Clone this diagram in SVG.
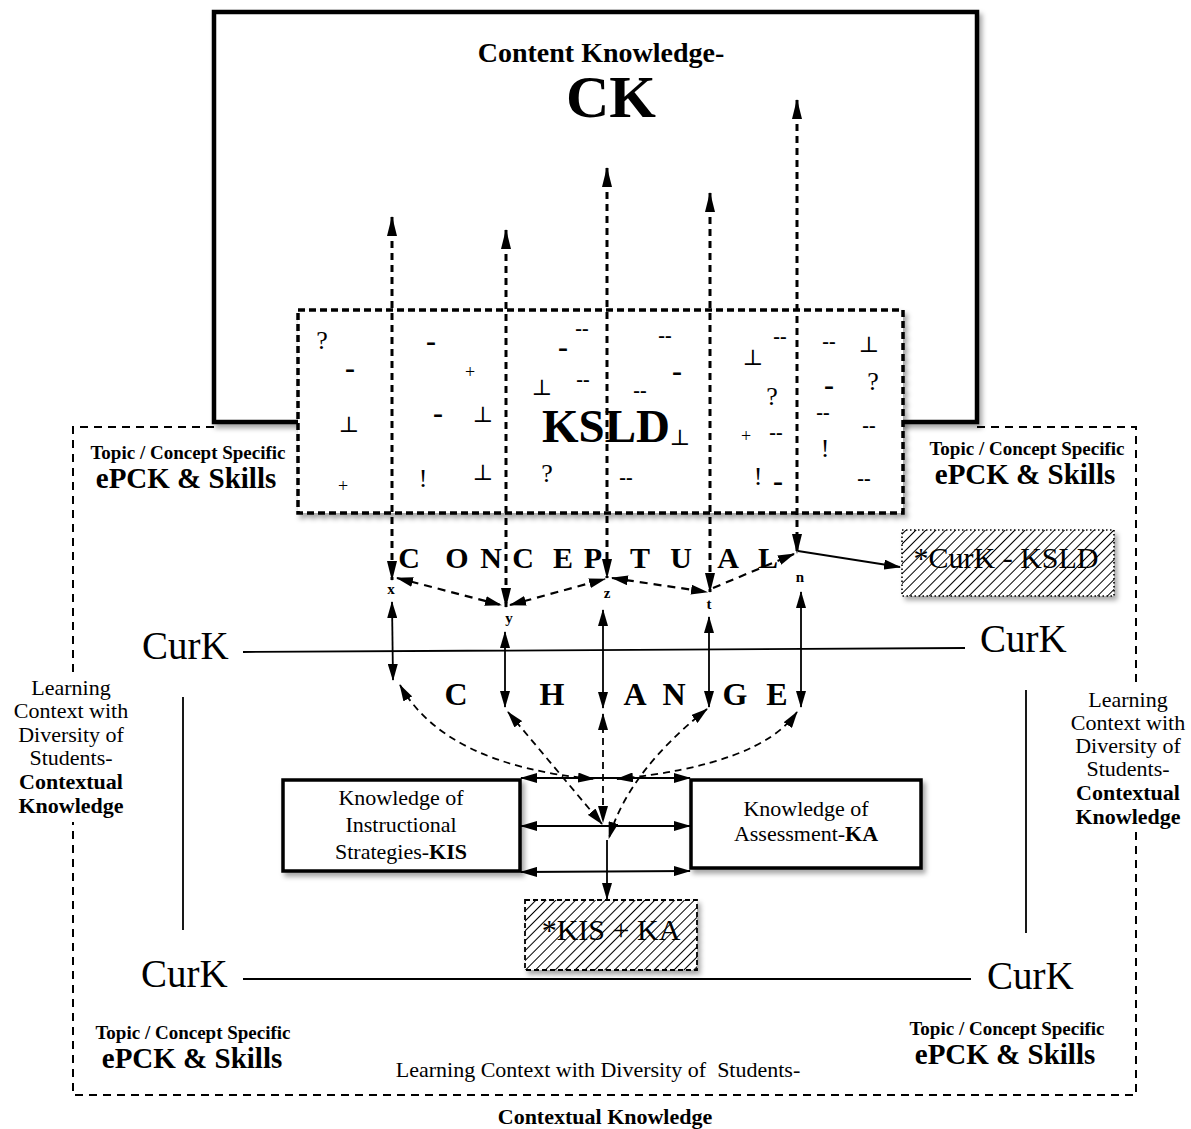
<svg xmlns="http://www.w3.org/2000/svg" width="1191" height="1129" viewBox="0 0 1191 1129">
<defs>
<style>
text{font-family:"Liberation Serif","Times New Roman",serif;fill:#000}
.b{font-weight:bold}
.m{text-anchor:middle}
.sym{font-size:26px;text-anchor:middle}
.d1{font-size:30px;font-weight:bold;text-anchor:middle}
.d2{font-size:20px;font-weight:bold;text-anchor:middle}
.tack{font-family:"DejaVu Serif","DejaVu Sans",serif;font-size:22px;text-anchor:middle}
.plus{font-size:18px;text-anchor:middle}
.lbl{font-size:15px;font-weight:bold;text-anchor:middle}
.cc{font-size:30px;font-weight:bold;text-anchor:middle}
.ch{font-size:32px;font-weight:bold;text-anchor:middle}
.curk{font-size:39px}
.ctx{font-size:22px;text-anchor:middle}
.topic{font-size:19px;font-weight:bold;text-anchor:middle}
.epck{font-size:29px;font-weight:bold;text-anchor:middle}
.kn{font-size:22px;text-anchor:middle}
.star{font-size:30px;text-anchor:middle}
.box{fill:#fff;stroke:#000;stroke-width:3.5}
.edge{fill:none;stroke:#000;stroke-width:2;stroke-dasharray:8 6}
.thin{fill:none;stroke:#000;stroke-width:1.8}
.dv{fill:none;stroke:#000;stroke-width:3;stroke-dasharray:7 5}
.dd{fill:none;stroke:#000;stroke-width:2.2;stroke-dasharray:8 6}
.dc{fill:none;stroke:#000;stroke-width:1.8;stroke-dasharray:7 5}
.sol{fill:none;stroke:#000;stroke-width:1.8}
</style>
<marker id="ah" viewBox="0 0 20 10" refX="19" refY="5" markerWidth="20" markerHeight="10" markerUnits="userSpaceOnUse" orient="auto-start-reverse"><path d="M0,0 L20,5 L0,10 z"/></marker>
<marker id="as" viewBox="0 0 17 10" refX="16" refY="5" markerWidth="17" markerHeight="10" markerUnits="userSpaceOnUse" orient="auto-start-reverse"><path d="M0,0 L17,5 L0,10 z"/></marker>
<pattern id="hatch" patternUnits="userSpaceOnUse" width="7" height="7" patternTransform="rotate(45)"><rect width="7" height="7" fill="#fff"/><line x1="0.5" y1="0" x2="0.5" y2="7" stroke="#000" stroke-width="1"/></pattern>
<filter id="sh" x="-5%" y="-5%" width="115%" height="125%"><feDropShadow dx="3" dy="4" stdDeviation="2.5" flood-color="#000" flood-opacity="0.35"/></filter>
</defs>
<rect width="1191" height="1129" fill="#fff"/>

<!-- contextual knowledge boundary (dashed, broken by the side captions) -->
<g id="context-frame">
<path class="edge" d="M73 672 V427 H214 M977 427 H1136 V686 M1136 832 V1095 H73 V822"/>
</g>

<!-- content knowledge -->
<g id="ck">
<rect x="214" y="12" width="763" height="410" fill="#fff" stroke="#000" stroke-width="4.5" filter="url(#sh)"/>
<text class="b m" x="601" y="62" font-size="28">Content Knowledge-</text>
<text class="b m" x="611" y="117" font-size="60">CK</text>
</g>

<!-- KSLD box with scattered symbols -->
<g id="ksld">
<rect x="298" y="310" width="605" height="203" fill="#fff" stroke="#000" stroke-width="3.5" stroke-dasharray="7 4" filter="url(#sh)"/>
<text class="b" x="542" y="442" font-size="47">KSLD</text>
<text class="tack" x="680" y="445">⊥</text>
<text class="sym" x="322" y="349">?</text>
<text class="d1" x="350" y="378">-</text>
<text class="tack" x="349" y="432">⊥</text>
<text class="plus" x="343" y="492">+</text>
<text class="d1" x="431" y="351">-</text>
<text class="plus" x="470" y="378">+</text>
<text class="d1" x="438" y="423">-</text>
<text class="tack" x="483" y="422">⊥</text>
<text class="sym" x="423" y="487">!</text>
<text class="tack" x="483" y="480">⊥</text>
<text class="d2" x="582" y="335">--</text>
<text class="d1" x="563" y="357">-</text>
<text class="tack" x="542" y="395">⊥</text>
<text class="d2" x="583" y="386">--</text>
<text class="sym" x="547" y="482">?</text>
<text class="d2" x="665" y="342">--</text>
<text class="d1" x="677" y="381">-</text>
<text class="d2" x="640" y="397">--</text>
<text class="d2" x="626" y="484">--</text>
<text class="d2" x="780" y="343">--</text>
<text class="tack" x="753" y="365">⊥</text>
<text class="sym" x="772" y="405">?</text>
<text class="plus" x="746" y="442">+</text>
<text class="d2" x="776" y="439">--</text>
<text class="sym" x="758" y="485">!</text>
<text class="d1" x="778" y="491">-</text>
<text class="d2" x="829" y="348">--</text>
<text class="tack" x="869" y="352">⊥</text>
<text class="d1" x="829" y="395">-</text>
<text class="sym" x="873" y="390">?</text>
<text class="d2" x="823" y="419">--</text>
<text class="d2" x="869" y="432">--</text>
<text class="sym" x="825" y="457">!</text>
<text class="d2" x="864" y="485">--</text>
</g>

<!-- ePCK corner captions -->
<g id="epck-tl"><text class="topic" x="188" y="459">Topic / Concept Specific</text><text class="epck" x="186" y="488">ePCK &amp; Skills</text></g>
<g id="epck-tr"><text class="topic" x="1027" y="455">Topic / Concept Specific</text><text class="epck" x="1025" y="484">ePCK &amp; Skills</text></g>
<g id="epck-bl"><text class="topic" x="193" y="1039">Topic / Concept Specific</text><text class="epck" x="192" y="1068">ePCK &amp; Skills</text></g>
<g id="epck-br"><text class="topic" x="1007" y="1035">Topic / Concept Specific</text><text class="epck" x="1005" y="1064">ePCK &amp; Skills</text></g>

<!-- side and bottom context captions -->
<g id="ctx-left">
<text class="ctx" x="71" y="695">Learning</text>
<text class="ctx" x="71" y="718">Context with</text>
<text class="ctx" x="71" y="742">Diversity of</text>
<text class="ctx" x="71" y="765">Students-</text>
<text class="ctx b" x="71" y="789">Contextual</text>
<text class="ctx b" x="71" y="813">Knowledge</text>
</g>
<g id="ctx-right">
<text class="ctx" x="1128" y="707">Learning</text>
<text class="ctx" x="1128" y="730">Context with</text>
<text class="ctx" x="1128" y="753">Diversity of</text>
<text class="ctx" x="1128" y="776">Students-</text>
<text class="ctx b" x="1128" y="800">Contextual</text>
<text class="ctx b" x="1128" y="824">Knowledge</text>
</g>
<g id="ctx-bottom">
<text class="ctx" x="598" y="1077" xml:space="preserve" font-size="22.5">Learning Context with Diversity of  Students-</text>
<text class="ctx b" x="605" y="1124" font-size="23">Contextual Knowledge</text>
</g>

<!-- curriculum knowledge frame -->
<g id="curk">
<text class="curk" x="142" y="659">CurK</text>
<text class="curk" x="980" y="652">CurK</text>
<text class="curk" x="141" y="987">CurK</text>
<text class="curk" x="987" y="989">CurK</text>
<path class="thin" d="M243 652 L965 648 M243 979 L971 979 M183 697 V930 M1026 690 V933"/>
</g>

<!-- conceptual change lettering -->
<g id="conceptual">
<text class="cc" x="409" y="568">C</text><text class="cc" x="457" y="568">O</text><text class="cc" x="491" y="568">N</text><text class="cc" x="523" y="568">C</text><text class="cc" x="563" y="568">E</text><text class="cc" x="593" y="568">P</text><text class="cc" x="640" y="568">T</text><text class="cc" x="681" y="568">U</text><text class="cc" x="728" y="568">A</text><text class="cc" x="768" y="568">L</text>
</g>
<g id="change">
<text class="ch" x="456" y="705">C</text><text class="ch" x="552" y="705">H</text><text class="ch" x="635" y="705">A</text><text class="ch" x="674" y="705">N</text><text class="ch" x="735" y="705">G</text><text class="ch" x="777" y="705">E</text>
</g>
<g id="points">
<text class="lbl" x="391" y="594">x</text>
<text class="lbl" x="509" y="623">y</text>
<text class="lbl" x="607" y="598">z</text>
<text class="lbl" x="709" y="609">t</text>
<text class="lbl" x="800" y="582">n</text>
</g>

<!-- knowledge boxes -->
<g id="kis">
<rect class="box" x="283" y="780" width="237" height="91" filter="url(#sh)"/>
<text class="kn" x="401" y="805">Knowledge of</text>
<text class="kn" x="401" y="832">Instructional</text>
<text class="kn" x="401" y="859">Strategies-<tspan class="b">KIS</tspan></text>
</g>
<g id="ka">
<rect class="box" x="691" y="780" width="230" height="88" filter="url(#sh)"/>
<text class="kn" x="806" y="816">Knowledge of</text>
<text class="kn" x="806" y="841">Assessment-<tspan class="b">KA</tspan></text>
</g>
<g id="curk-ksld">
<rect x="902" y="530" width="212" height="66" fill="url(#hatch)" stroke="#000" stroke-width="1.6" stroke-dasharray="1.5 2.5" filter="url(#sh)"/>
<text class="star" x="1006" y="568">*CurK - KSLD</text>
</g>
<g id="kis-ka">
<rect x="525" y="900" width="172" height="70" fill="url(#hatch)" stroke="#000" stroke-width="1.8" stroke-dasharray="5 3" filter="url(#sh)"/>
<text class="star" x="611" y="940">*KIS + KA</text>
</g>

<!-- connectors -->
<g id="connectors">
<path class="dv" d="M392 217 V580" marker-start="url(#ah)" marker-end="url(#ah)"/>
<path class="dv" d="M506 230 V607" marker-start="url(#ah)" marker-end="url(#ah)"/>
<path class="dv" d="M607 168 V578" marker-start="url(#ah)" marker-end="url(#ah)"/>
<path class="dv" d="M710 193 V592" marker-start="url(#ah)" marker-end="url(#ah)"/>
<path class="dv" d="M797 100 V553" marker-start="url(#ah)" marker-end="url(#ah)"/>

<path class="dd" d="M397 578 L501 605" marker-start="url(#as)" marker-end="url(#as)"/>
<path class="dd" d="M510 605 L605 579" marker-start="url(#as)" marker-end="url(#as)"/>
<path class="dd" d="M612 578 L707 592" marker-start="url(#as)" marker-end="url(#as)"/>
<path class="dd" d="M713 588 L794 554" marker-end="url(#as)"/>
<path class="sol" d="M798 551 L900 567" marker-end="url(#as)"/>

<path class="sol" d="M392 602 L393 680" marker-start="url(#as)" marker-end="url(#as)"/>
<path class="sol" d="M505 632 V707" marker-start="url(#as)" marker-end="url(#as)"/>
<path class="sol" d="M603 610 V708" marker-start="url(#as)" marker-end="url(#as)"/>
<path class="sol" d="M709 617 V707" marker-start="url(#as)" marker-end="url(#as)"/>
<path class="sol" d="M801 592 V707" marker-start="url(#as)" marker-end="url(#as)"/>

<path class="dc" d="M400 685 Q445 765 594 779" marker-start="url(#as)" marker-end="url(#as)"/>
<path class="dc" d="M508 712 L602 824" marker-start="url(#as)" marker-end="url(#as)"/>
<path class="dc" d="M603 714 V822" marker-start="url(#as)" marker-end="url(#as)"/>
<path class="dc" d="M707 709 Q628 772 609 838" marker-start="url(#as)" marker-end="url(#as)"/>
<path class="dc" d="M797 712 Q760 765 617 779" marker-start="url(#as)" marker-end="url(#as)"/>

<path class="sol" d="M521 778 H690" marker-start="url(#as)" marker-end="url(#as)"/>
<path class="sol" d="M521 826 H690" marker-start="url(#as)" marker-end="url(#as)"/>
<path class="sol" d="M521 872 L690 871" marker-start="url(#as)" marker-end="url(#as)"/>
<path class="sol" d="M607 840 V899" marker-end="url(#as)"/>
</g>
</svg>
